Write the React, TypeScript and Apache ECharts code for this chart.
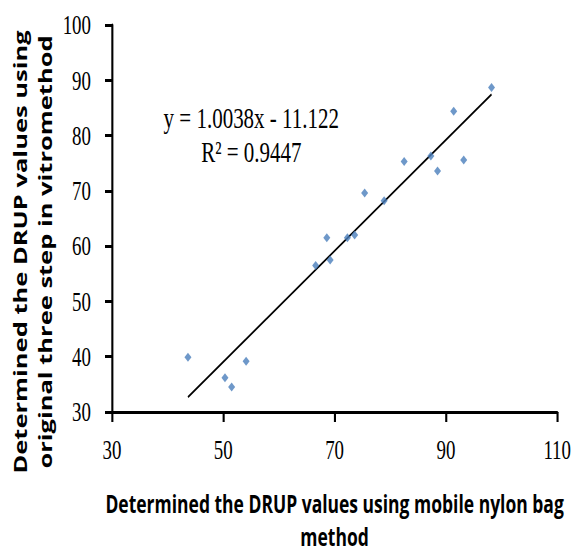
import React, { useEffect, useRef } from "react";
import * as echarts from "echarts";

// Data
const nylonBagValues = [98.2, 91.4, 87.3, 93.2, 82.5, 88.5, 75.4, 78.9, 68.6, 72.3, 73.6, 69.2, 66.6, 43.65, 54.1, 50.3, 51.5];
const inVitroValues = [88.7, 84.4, 76.3, 75.6, 75.3, 73.6, 69.6, 68.2, 61.5, 61.5, 62.0, 57.5, 56.5, 39.9, 39.2, 36.2, 34.5];
const trendSlope = 1.0038;
const trendIntercept = -11.122;
const equationLines = ["y = 1.0038x - 11.122", "R² = 0.9447"];
const xAxisRange = { min: 30, max: 110, interval: 20 };
const yAxisRange = { min: 30, max: 100, interval: 10 };
const xAxisTitle = "Determined the DRUP values using mobile nylon bag\nmethod";
const yAxisTitle = "Determined the DRUP values using\noriginal three step in vitromethod";

const SQUISH = 0.7;
const PAGE_W = 585;
const PAGE_H = 553;
const INNER_W = Math.round(PAGE_W / SQUISH);

export default function App() {
  const ref = useRef<HTMLDivElement>(null);

  useEffect(() => {
    if (!ref.current) return;
    const chart = echarts.init(ref.current, undefined, { renderer: "svg" });
    const points = nylonBagValues.map((x, i) => [x, inVitroValues[i]]);
    const xMin = Math.min(...nylonBagValues);
    const xMax = Math.max(...nylonBagValues);
    const trend = [
      [xMin, trendSlope * xMin + trendIntercept],
      [xMax, trendSlope * xMax + trendIntercept],
    ];
    const serif = "'Liberation Serif', 'Times New Roman', serif";
    const sans = "'Open Sans', 'Noto Sans', sans-serif";
    const axisLine = { show: true, lineStyle: { color: "#000", width: 3 } };
    const axisTick = { show: true, length: 10, lineStyle: { color: "#000", width: 3 } };

    chart.setOption({
      animation: false,
      backgroundColor: "#fff",
      grid: {
        left: 160,
        right: INNER_W - 796,
        top: 25,
        bottom: PAGE_H - 412,
        containLabel: false,
        outerBoundsMode: "none",
      },
      xAxis: {
        type: "value",
        min: xAxisRange.min,
        max: xAxisRange.max,
        interval: xAxisRange.interval,
        splitLine: { show: false },
        axisLine,
        axisTick,
        axisLabel: { color: "#000", fontFamily: serif, fontSize: 27, margin: 24 },
        name: xAxisTitle,
        nameLocation: "middle",
        nameGap: 75,
        nameTextStyle: { color: "#000", fontFamily: sans, fontWeight: "bold", fontSize: 25, lineHeight: 33 },
      },
      yAxis: {
        type: "value",
        min: yAxisRange.min,
        max: yAxisRange.max,
        interval: yAxisRange.interval,
        splitLine: { show: false },
        axisLine,
        axisTick,
        axisLabel: { color: "#000", fontFamily: serif, fontSize: 27, margin: 30 },
      },
      graphic: [
        {
          type: "text",
          x: 46,
          y: 252,
          rotation: Math.PI / 2,
          style: {
            text: yAxisTitle,
            fill: "#000",
            font: `bold 25.5px ${sans}`,
            lineHeight: 37,
            textAlign: "center",
            textVerticalAlign: "middle",
          },
        },
        {
          type: "text",
          x: 359,
          y: 118,
          style: {
            text: equationLines[0],
            fill: "#000",
            font: `30px ${serif}`,
            textAlign: "center",
            textVerticalAlign: "middle",
          },
        },
        {
          type: "text",
          x: 359,
          y: 152,
          style: {
            text: equationLines[1],
            fill: "#000",
            font: `30px ${serif}`,
            textAlign: "center",
            textVerticalAlign: "middle",
          },
        },
      ],
      series: [
        {
          type: "line",
          data: trend,
          symbol: "none",
          lineStyle: { color: "#000", width: 2 },
          z: 1,
        },
        {
          type: "scatter",
          data: points,
          symbol: "diamond",
          symbolSize: [10, 9],
          itemStyle: { color: "#4a7ebb" },
          z: 2,
        },
      ],
    });
    return () => chart.dispose();
  }, []);

  return (
    <div style={{ position: "absolute", left: 0, top: 0, width: PAGE_W, height: PAGE_H, overflow: "hidden", background: "#fff" }}>
      <div
        ref={ref}
        style={{ width: INNER_W, height: PAGE_H, transform: `scaleX(${SQUISH})`, transformOrigin: "0 0" }}
      />
    </div>
  );
}
